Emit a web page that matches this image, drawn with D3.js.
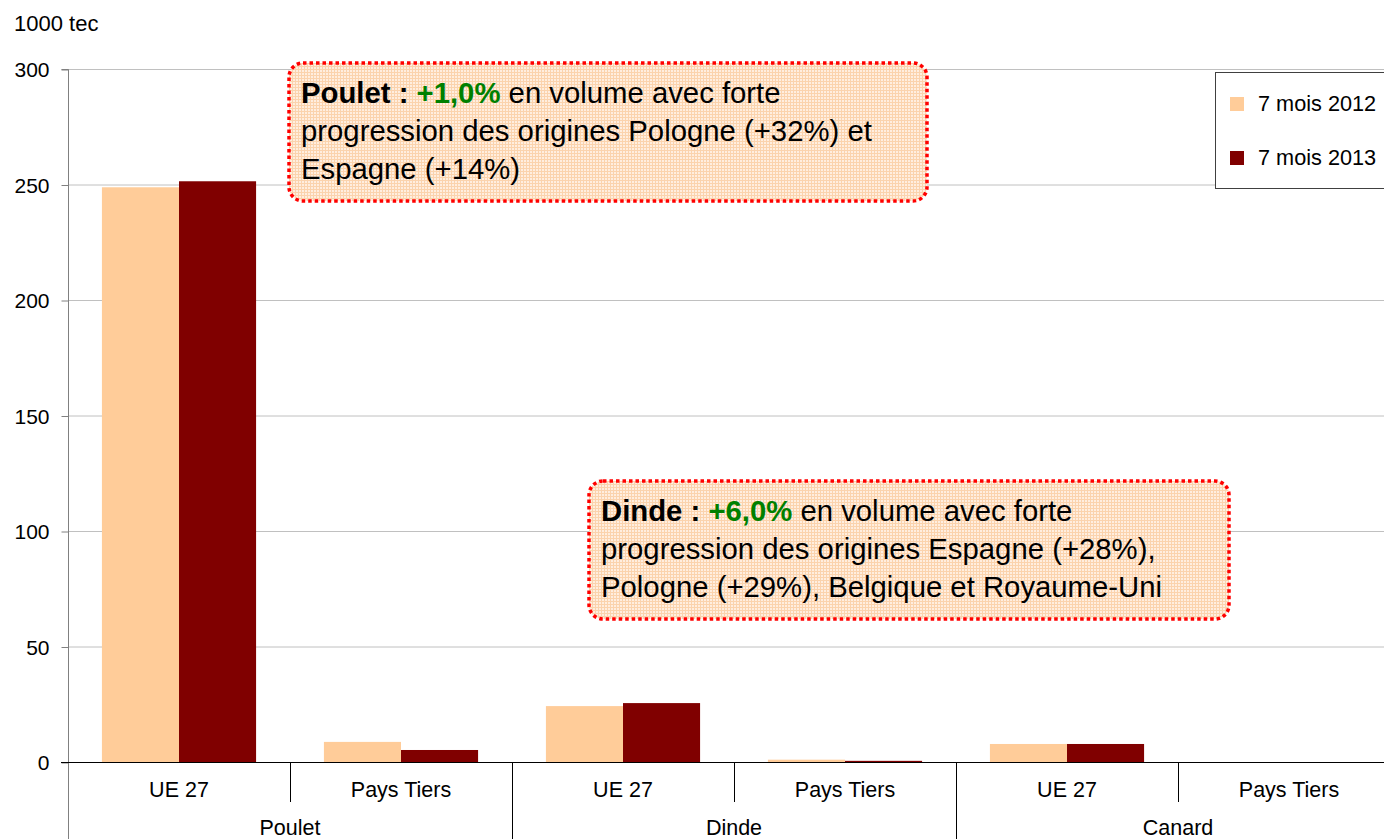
<!DOCTYPE html>
<html>
<head>
<meta charset="utf-8">
<script src="https://cdn.jsdelivr.net/npm/d3@7"></script>
<style>
  body { margin: 0; background: #fff; }
  svg { font-family: "Liberation Sans", Arial, sans-serif; }
</style>
</head>
<body>
<div id="chart"></div>
<script>
'use strict';

// data (1000 tec)
var groups = ['Poulet', 'Dinde', 'Canard'];
var origins = ['UE 27', 'Pays Tiers'];
var series = ['7 mois 2012', '7 mois 2013'];
var values2012 = [248.8, 8.7, 24.2, 1.0, 7.8, 0];
var values2013 = [251.4, 5.2, 25.5, 0.5, 7.8, 0];
var yTicks = [0, 50, 100, 150, 200, 250, 300];
var colors = ['#ffcc99', '#800000'];

var W = 1384, H = 839;
var plotLeft = 68, plotRight = 1400, plotTop = 69, plotBottom = 762;
var fontFamily = '"Liberation Sans", Arial, sans-serif';

var svg = d3.select('#chart').append('svg')
  .attr('width', W)
  .attr('height', H);

// background pattern for the annotation boxes
var defs = svg.append('defs');
var pat = defs.append('pattern')
  .attr('id', 'grid')
  .attr('width', 3)
  .attr('height', 3)
  .attr('patternUnits', 'userSpaceOnUse');
pat.append('rect').attr('width', 3).attr('height', 3).attr('fill', '#ffeedf');
pat.append('path').attr('d', 'M0 0.5H3M0.5 0V3')
  .attr('stroke', '#fbd3ad').attr('stroke-width', 1);

// build cells (group x origin)
var cells = [];
groups.forEach(function (g, gi) {
  origins.forEach(function (o, oi) {
    var i = gi * origins.length + oi;
    cells.push({ key: g + '|' + o, group: g, origin: o, vals: [values2012[i], values2013[i]] });
  });
});

var x = d3.scaleBand()
  .domain(cells.map(function (c) { return c.key; }))
  .range([plotLeft, plotRight]);

var xInner = d3.scaleBand()
  .domain(series)
  .range([0, x.bandwidth()])
  .paddingInner(0)
  .paddingOuter(0.44);

var y = d3.scaleLinear()
  .domain([0, 300])
  .range([plotBottom, plotTop]);

/* gridlines */
svg.append('g')
  .selectAll('line')
  .data(yTicks.filter(function (t) { return t > 0; }))
  .enter().append('line')
  .attr('x1', plotLeft).attr('x2', W)
  .attr('y1', function (d) { return y(d) + 0.5; })
  .attr('y2', function (d) { return y(d) + 0.5; })
  .attr('stroke', '#c0c0c0')
  .attr('stroke-width', 1);

/* y axis */
var yAxis = svg.append('g')
  .attr('transform', 'translate(' + (plotLeft + 0.5) + ',0.5)')
  .call(d3.axisLeft(y).tickValues(yTicks).tickSize(7).tickPadding(12));
yAxis.select('.domain').attr('stroke', '#808080').attr('d', 'M-7,' + plotTop + 'H0V' + H);
yAxis.selectAll('.tick line').attr('stroke', '#808080');
yAxis.selectAll('.tick text')
  .attr('font-size', 21)
  .attr('font-family', fontFamily)
  .attr('dy', '0.35em')
  .attr('fill', '#000');

svg.append('text')
  .attr('x', 14).attr('y', 31)
  .attr('font-size', 22)
  .text('1000 tec');

/* bars */
var cellG = svg.append('g')
  .selectAll('g')
  .data(cells)
  .enter().append('g')
  .attr('transform', function (c) { return 'translate(' + x(c.key) + ',0)'; });

cellG.selectAll('rect')
  .data(function (c) { return c.vals.map(function (v, i) { return { s: series[i], v: v, i: i }; }); })
  .enter().append('rect')
  .attr('x', function (d) { return xInner(d.s); })
  .attr('width', xInner.bandwidth())
  .attr('y', function (d) { return y(d.v); })
  .attr('height', function (d) { return plotBottom - y(d.v); })
  .attr('fill', function (d) { return colors[d.i]; });

/* x axis line */
svg.append('line')
  .attr('x1', plotLeft - 7).attr('x2', W)
  .attr('y1', plotBottom + 0.5).attr('y2', plotBottom + 0.5)
  .attr('stroke', '#000');

// separators between origins and groups
cells.forEach(function (c, i) {
  if (i === 0) return;
  var xs = Math.round(x(c.key)) + 0.5;
  var isGroupEdge = (i % origins.length === 0);
  svg.append('line')
    .attr('x1', xs).attr('x2', xs)
    .attr('y1', plotBottom)
    .attr('y2', isGroupEdge ? H : plotBottom + 40)
    .attr('stroke', '#000')
    .attr('stroke-width', 1);
});

// origin labels
svg.append('g')
  .selectAll('text')
  .data(cells)
  .enter().append('text')
  .attr('x', function (c) { return x(c.key) + x.bandwidth() / 2; })
  .attr('y', 797)
  .attr('text-anchor', 'middle')
  .attr('font-size', 21.5)
  .text(function (c) { return c.origin; });

// group labels
svg.append('g')
  .selectAll('text')
  .data(groups)
  .enter().append('text')
  .attr('x', function (g) {
    var a = x(g + '|' + origins[0]);
    var b = x(g + '|' + origins[origins.length - 1]) + x.bandwidth();
    return (a + b) / 2;
  })
  .attr('y', 835)
  .attr('text-anchor', 'middle')
  .attr('font-size', 21.5)
  .text(function (g) { return g; });

/* legend */
var leg = svg.append('g').attr('transform', 'translate(1215,72)');
leg.append('rect')
  .attr('x', 0.5).attr('y', 0.5)
  .attr('width', 200).attr('height', 116)
  .attr('fill', '#fff')
  .attr('stroke', '#404040');
series.forEach(function (s, i) {
  leg.append('rect')
    .attr('x', 15).attr('y', 25 + i * 54)
    .attr('width', 14).attr('height', 14)
    .attr('fill', colors[i]);
  leg.append('text')
    .attr('x', 43).attr('y', 39 + i * 54)
    .attr('font-size', 21.7)
    .text(s);
});

/* annotation boxes */
var notes = [
  { x: 289, y: 63, w: 638, h: 138, head: 'Poulet : ', pct: '+1,0%',
    lines: [' en volume avec forte', 'progression des origines Pologne (+32%) et', 'Espagne (+14%)'] },
  { x: 589, y: 481, w: 640, h: 138, head: 'Dinde : ', pct: '+6,0%',
    lines: [' en volume avec forte', 'progression des origines Espagne (+28%),', 'Pologne (+29%), Belgique et Royaume-Uni'] }
];
var noteSize = 29.3;

notes.forEach(function (n) {
  var g = svg.append('g').attr('transform', 'translate(' + n.x + ',' + n.y + ')');
  g.append('rect')
    .attr('width', n.w).attr('height', n.h)
    .attr('rx', 14).attr('ry', 14)
    .attr('fill', 'url(#grid)')
    .attr('stroke', '#ff0000')
    .attr('stroke-width', 3.5)
    .attr('stroke-dasharray', '3.5,3');
  var t = g.append('text')
    .attr('x', 12).attr('y', 40)
    .attr('font-size', noteSize);
  t.append('tspan').attr('font-weight', 'bold').text(n.head);
  t.append('tspan').attr('font-weight', 'bold').attr('fill', '#008000').text(n.pct);
  t.append('tspan').text(n.lines[0]);
  g.append('text').attr('x', 12).attr('y', 78).attr('font-size', noteSize).text(n.lines[1]);
  g.append('text').attr('x', 12).attr('y', 116).attr('font-size', noteSize).text(n.lines[2]);
});
</script>
</body>
</html>
